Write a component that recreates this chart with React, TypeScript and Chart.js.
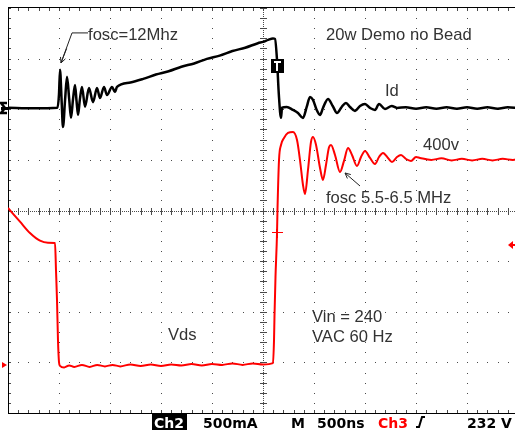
import React, { useEffect, useRef } from 'react';
import { Chart, registerables } from 'chart.js';

Chart.register(...registerables);

// time axis in divisions (500 ns/div), amplitude in divisions
const idTime = [
  0, 0.5, 0.97, 1.0, 1.02, 1.05, 1.078, 1.12, 1.157, 1.2, 1.235, 1.275, 1.314, 1.345, 1.373, 1.41,
  1.451, 1.51, 1.588, 1.667, 1.745, 1.804, 1.882, 1.941, 2.039, 2.098, 2.137, 2.4, 2.65, 2.9, 3.15,
  3.4, 3.65, 3.9, 4.15, 4.4, 4.65, 4.9, 5.0, 5.1, 5.196, 5.235, 5.275, 5.31, 5.353, 5.373, 5.465,
  5.588, 5.686, 5.784, 5.857, 5.922, 5.98, 6.053, 6.118, 6.176, 6.275, 6.367, 6.451, 6.543, 6.627,
  6.706, 6.804, 6.902, 7.0, 7.098, 7.196, 7.275, 7.392, 7.524, 7.627, 7.8, 8.0, 8.2, 8.4, 8.6, 8.8,
  9.0, 9.2, 9.4, 9.6, 9.8, 10,
];
const idLevel = [
  2.03, 2.02, 2.03, 2.3, 2.78, 2.2, 1.65, 2.2, 2.64, 2.2, 1.83, 2.2, 2.48, 2.15, 1.89, 2.2,
  2.44, 2.05, 2.42, 2.14, 2.42, 2.22, 2.44, 2.28, 2.44, 2.34, 2.441, 2.53, 2.6, 2.685, 2.75,
  2.84, 2.905, 2.995, 3.06, 3.15, 3.215, 3.305, 3.33, 3.37, 3.4, 3.39, 2.97, 2.3, 1.83, 2.03, 2.045,
  1.986, 1.927, 1.828, 2.045, 2.243, 2.184, 1.986, 1.887, 2.026, 2.204, 2.065, 1.927, 2.045, 2.125,
  2.045, 1.966, 2.065, 2.105, 2.026, 1.986, 2.105, 2.006, 2.065, 2.026, 2.04, 2.01, 2.04, 2.01, 2.04, 2.01,
  2.04, 2.01, 2.04, 2.01, 2.04, 2.02,
];

const vdsTime = [
  0, 0.235, 0.431, 0.627, 0.784, 0.922, 0.941, 0.961, 0.98, 1.0, 1.02, 1.1, 1.2, 1.3, 1.45, 1.6,
  1.75, 1.9, 2.05, 2.2, 2.4, 2.6, 2.8, 3.0, 3.2, 3.4, 3.6, 3.8, 4.0, 4.2, 4.4, 4.6, 4.8, 5.0,
  5.196, 5.216, 5.225, 5.245, 5.275, 5.284, 5.314, 5.353, 5.412, 5.49, 5.588, 5.667, 5.725, 5.784,
  5.824, 5.882, 5.941, 5.98, 6.039, 6.118, 6.176, 6.235, 6.294, 6.333, 6.412, 6.51, 6.588, 6.667,
  6.745, 6.843, 6.922, 7.0, 7.098, 7.196, 7.275, 7.353, 7.451, 7.529, 7.627, 7.706, 7.804, 7.902,
  8.0, 8.078, 8.3, 8.5, 8.7, 8.9, 9.1, 9.3, 9.5, 9.7, 9.9, 10,
];
const vdsLevel = [
  0.049, -0.221, -0.445, -0.597, -0.636, -0.642, -1.176, -1.769, -2.559, -2.994, -3.07, -3.1, -3.06,
  -3.09, -3.05, -3.09, -3.05, -3.08, -3.05, -3.08, -3.04, -3.07, -3.04, -3.07, -3.04, -3.06, -3.03,
  -3.06, -3.03, -3.05, -3.02, -3.05, -3.02, -3.04, -3.014, -2.559, -2.105, -1.314, -0.445, 0.01,
  0.998, 1.294, 1.433, 1.532, 1.551, 1.393, 1.0, 0.504, 0.326, 0.8, 1.354, 1.453, 1.3, 0.84, 0.603,
  0.899, 1.25, 1.294, 1.097, 0.761, 0.98, 1.235, 1.097, 0.879, 1.057, 1.176, 1.038, 0.919, 1.057,
  1.136, 1.038, 0.958, 1.057, 1.097, 1.017, 0.978, 1.057, 1.038, 1.0, 1.03, 0.99, 1.02, 0.99, 1.02,
  0.99, 1.02, 1.0, 1.01,
];

const ch2Ground = 2.026;
const ch3Ground = -3.05;
const triggerTime = 5.275;
const triggerMarkLevel = 2.85;
const triggerCrossLevel = -0.43;
const triggerLevel = -0.68;

const noteText = ['fosc=12Mhz', '20w Demo no Bead', 'Id', '400v', 'fosc 5.5-6.5 MHz', 'Vds', 'Vin = 240', 'VAC 60 Hz'];
const noteX = [1.569, 6.235, 7.392, 8.137, 6.235, 3.137, 5.961, 5.961];
const noteY = [3.468, 3.458, 2.362, 1.294, 0.247, -2.46, -2.115, -2.5];

const statusText = ['500mA', 'M', '500ns', '232 V'];

const App = () => {
  const ref = useRef<HTMLCanvasElement | null>(null);

  useEffect(() => {
    const canvas = ref.current;
    if (!canvas) return;

    const gridPlugin = {
      id: 'scopeGrid',
      beforeDatasetsDraw(chart: any) {
        const { ctx, chartArea: a, scales } = chart;
        const xs = scales.x;
        const ys = scales.y;
        const X = (v: number) => Math.round(xs.getPixelForValue(v));
        const Y = (v: number) => Math.round(ys.getPixelForValue(v));
        ctx.save();
        ctx.fillStyle = '#4a4a4a';
        for (let i = 1; i < 10; i++) {
          if (i === 5) continue;
          const px = X(i);
          for (let k = 0; k <= 40; k++) ctx.fillRect(px, Y(-4 + k * 0.2), 1, 1);
        }
        for (let j = -3; j <= 3; j++) {
          if (j === 0) continue;
          const py = Y(j);
          for (let k = 0; k <= 50; k++) ctx.fillRect(X(k * 0.2), py, 1, 1);
        }
        const cx = X(5);
        const cy = Y(0);
        for (let p = a.top; p <= a.bottom; p += 2) ctx.fillRect(cx, p, 1, 1);
        for (let p = a.left; p <= a.right; p += 2) ctx.fillRect(p, cy, 1, 1);
        for (let k = 0; k <= 40; k++) ctx.fillRect(cx - 3, Y(-4 + k * 0.2), 7, 1);
        for (let k = 0; k <= 50; k++) ctx.fillRect(X(k * 0.2), cy - 3, 1, 7);
        // border ticks
        for (let k = 0; k <= 50; k++) {
          ctx.fillRect(X(k * 0.2), a.bottom - 3, 1, 3);
          ctx.fillRect(X(k * 0.2), a.top, 1, 3);
        }
        for (let k = 0; k <= 40; k++) {
          ctx.fillRect(a.left, Y(-4 + k * 0.2), 3, 1);
        }
        ctx.fillStyle = '#000';
        ctx.fillRect(a.left, Math.round(a.top) - 1, a.right - a.left, 1);
        ctx.fillRect(a.left, Math.round(a.bottom), a.right - a.left, 1);
        ctx.fillRect(Math.round(a.left), a.top, 1, a.bottom - a.top);
        ctx.fillRect(Math.round(a.right), a.top, 1, a.bottom - a.top);
        ctx.restore();
      },
    };

    const overlayPlugin = {
      id: 'scopeOverlay',
      afterDatasetsDraw(chart: any) {
        const { ctx, scales } = chart;
        const xs = scales.x;
        const ys = scales.y;
        const X = (v: number) => xs.getPixelForValue(v);
        const Y = (v: number) => ys.getPixelForValue(v);
        ctx.save();

        // notes
        ctx.font = '16.6px "Liberation Sans", Arial, sans-serif';
        ctx.fillStyle = '#333';
        ctx.textBaseline = 'middle';
        ctx.textAlign = 'left';
        noteText.forEach((t, i) => ctx.fillText(t, X(noteX[i]), Y(noteY[i])));

        // leader for fosc=12Mhz
        ctx.strokeStyle = '#222';
        ctx.lineWidth = 1;
        ctx.beginPath();
        ctx.moveTo(X(1.569), Y(3.508));
        ctx.lineTo(X(1.255), Y(3.508));
        ctx.lineTo(X(1.039), Y(2.915));
        ctx.stroke();
        const arrow = (x0: number, y0: number, x1: number, y1: number) => {
          const ang = Math.atan2(y1 - y0, x1 - x0);
          ctx.beginPath();
          ctx.moveTo(x0, y0);
          ctx.lineTo(x1, y1);
          ctx.moveTo(x1, y1);
          ctx.lineTo(x1 - 6 * Math.cos(ang - 0.45), y1 - 6 * Math.sin(ang - 0.45));
          ctx.moveTo(x1, y1);
          ctx.lineTo(x1 - 6 * Math.cos(ang + 0.45), y1 - 6 * Math.sin(ang + 0.45));
          ctx.stroke();
        };
        arrow(X(1.15), Y(3.2), X(1.039), Y(2.915));
        arrow(X(6.902), Y(0.484), X(6.608), Y(0.741));

        // ch2 ground marker (black)
        const g2 = Math.round(Y(ch2Ground));
        ctx.strokeStyle = '#000';
        ctx.lineWidth = 2.5;
        ctx.beginPath();
        ctx.moveTo(7, g2 - 5);
        ctx.lineTo(1, g2 - 5);
        ctx.lineTo(5, g2);
        ctx.lineTo(1, g2 + 5);
        ctx.lineTo(7, g2 + 5);
        ctx.stroke();
        ctx.fillStyle = '#000';
        ctx.fillRect(1, g2 - 1, 7, 3);

        // ch3 ground marker (red)
        const g3 = Math.round(Y(ch3Ground));
        ctx.fillStyle = '#ff0000';
        ctx.beginPath();
        ctx.moveTo(2, g3 - 3);
        ctx.lineTo(7, g3);
        ctx.lineTo(2, g3 + 3);
        ctx.closePath();
        ctx.fill();

        // trigger level marker (right)
        const tl = Math.round(Y(triggerLevel));
        ctx.beginPath();
        ctx.moveTo(508, tl);
        ctx.lineTo(513, tl - 4);
        ctx.lineTo(513, tl + 4);
        ctx.closePath();
        ctx.fill();
        ctx.fillRect(511, tl - 1, 4, 2);

        // trigger cross on Vds
        const tx = Math.round(X(triggerTime));
        const tc = Math.round(Y(triggerCrossLevel));
        ctx.fillRect(tx - 5, tc, 11, 1);
        ctx.fillRect(tx - 1, tc - 3, 2, 9);

        // T marker
        const tm = Math.round(Y(triggerMarkLevel));
        ctx.fillStyle = '#000';
        ctx.fillRect(tx - 6, tm - 7, 13, 14);
        ctx.fillStyle = '#fff';
        ctx.fillRect(tx - 3, tm - 5, 7, 2);
        ctx.fillRect(tx - 1, tm - 5, 2, 10);

        ctx.restore();
      },
      afterDraw(chart: any) {
        const { ctx } = chart;
        ctx.save();
        ctx.font = 'bold 14px "DejaVu Sans", sans-serif';
        ctx.textBaseline = 'alphabetic';
        ctx.textAlign = 'left';
        const base = 428;
        ctx.fillStyle = '#000';
        ctx.fillRect(152, 414, 35, 16);
        ctx.fillStyle = '#fff';
        ctx.fillText('Ch2', 154, base);
        ctx.fillStyle = '#000';
        ctx.fillText(statusText[0], 203, base);
        ctx.fillText(statusText[1], 291, base);
        ctx.fillText(statusText[2], 317, base);
        ctx.fillText(statusText[3], 467, base);
        ctx.fillStyle = '#ff0000';
        ctx.fillText('Ch3', 378, base);
        ctx.strokeStyle = '#000';
        ctx.lineWidth = 2;
        ctx.beginPath();
        ctx.moveTo(416, 427);
        ctx.lineTo(419, 427);
        ctx.lineTo(422, 417);
        ctx.lineTo(425, 417);
        ctx.stroke();
        ctx.restore();
      },
    };

    const idPts = idTime.map((t, i) => ({ x: t, y: idLevel[i] }));
    const vdsPts = vdsTime.map((t, i) => ({ x: t, y: vdsLevel[i] }));

    const chart = new Chart(canvas, {
      type: 'line',
      data: {
        datasets: [
          { data: idPts, borderColor: '#000', borderWidth: 2.5, pointRadius: 0, cubicInterpolationMode: 'monotone', fill: false },
          { data: vdsPts, borderColor: '#ff0000', borderWidth: 2, pointRadius: 0, cubicInterpolationMode: 'monotone', fill: false },
        ],
      },
      options: {
        responsive: false,
        animation: false,
        devicePixelRatio: 1,
        events: [],
        layout: { padding: { left: 8, top: 8, right: 2, bottom: 18 } },
        plugins: { legend: { display: false }, tooltip: { enabled: false } },
        scales: {
          x: { type: 'linear', min: 0, max: 10, display: false },
          y: { type: 'linear', min: -4, max: 4, display: false },
        },
      },
      plugins: [gridPlugin, overlayPlugin],
    } as any);

    return () => chart.destroy();
  }, []);

  return (
    <div style={{ position: 'fixed', left: 0, top: 0, width: 515, height: 431, overflow: 'hidden', background: '#fff' }}>
      <canvas ref={ref} width={520} height={431} style={{ display: 'block' }} />
    </div>
  );
};

export default App;
